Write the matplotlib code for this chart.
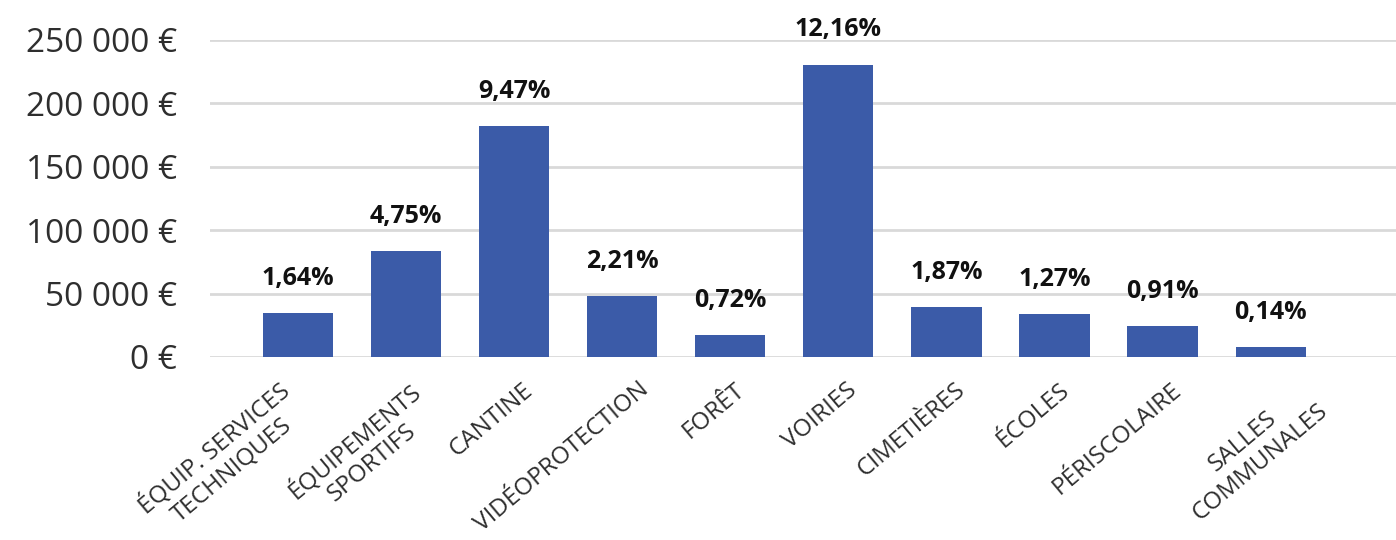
import matplotlib
matplotlib.use("Agg")
import matplotlib.pyplot as plt
from matplotlib.transforms import ScaledTranslation

categories = ["ÉQUIP. SERVICES\nTECHNIQUES", "ÉQUIPEMENTS\nSPORTIFS", "CANTINE",
              "VIDÉOPROTECTION", "FORÊT", "VOIRIES", "CIMETIÈRES", "ÉCOLES",
              "PÉRISCOLAIRE", "SALLES\nCOMMUNALES"]
values = [34300, 83700, 182200, 47900, 17100, 230600, 39500, 33700, 24500, 7900]
percent_labels = ["1,64%", "4,75%", "9,47%", "2,21%", "0,72%", "12,16%",
                  "1,87%", "1,27%", "0,91%", "0,14%"]
y_ticks = [0, 50000, 100000, 150000, 200000, 250000]
y_tick_labels = ["0 €", "50 000 €", "100 000 €", "150 000 €", "200 000 €", "250 000 €"]

# small per-label horizontal nudges (pixels) for the rotated category labels
label_nudge_px = [-28, -5, 0, 8, -4, 0, 0, -4, 0, 21]

plt.rcParams['font.family'] = ['Open Sans', 'DejaVu Sans']

fig = plt.figure(figsize=(13.96, 5.40), dpi=100)
ax = fig.add_axes([0.1504, 0.339, 0.8496, 0.587])

x = list(range(len(categories)))
bars = ax.bar(x, values, width=0.65, color="#3b5ba8", zorder=3)

ax.set_ylim(0, 250000)
ax.set_xlim(-0.815, 10.16)
ax.set_yticks(y_ticks)
ax.set_yticklabels(y_tick_labels, fontsize=24, color="#2e2e2e")
ax.yaxis.grid(True, color="#d9d9d9", linewidth=2, zorder=0)
ax.set_axisbelow(True)
for s in ax.spines.values():
    s.set_visible(False)
ax.tick_params(axis='y', length=0, pad=24)
ax.tick_params(axis='x', length=0)

ax.set_xticks(x)
ax.set_xticklabels([])
for xi, lab, nud in zip(x, categories, label_nudge_px):
    off = ScaledTranslation((8 + nud)/100, -21/100, fig.dpi_scale_trans)
    ax.text(xi, 0, lab, transform=ax.get_xaxis_transform() + off,
            rotation=40, rotation_mode='anchor', ha='right', va='top',
            multialignment='center', fontsize=17.5, color="#2e2e2e", linespacing=1.15)

for b, lab in zip(bars, percent_labels):
    ax.annotate(lab, (b.get_x() + b.get_width()/2, b.get_height()),
                xytext=(0, 16), textcoords='offset points', ha='center', va='bottom',
                fontsize=18, fontweight='bold', color="#111111")

fig.savefig("out.png", dpi=100)
